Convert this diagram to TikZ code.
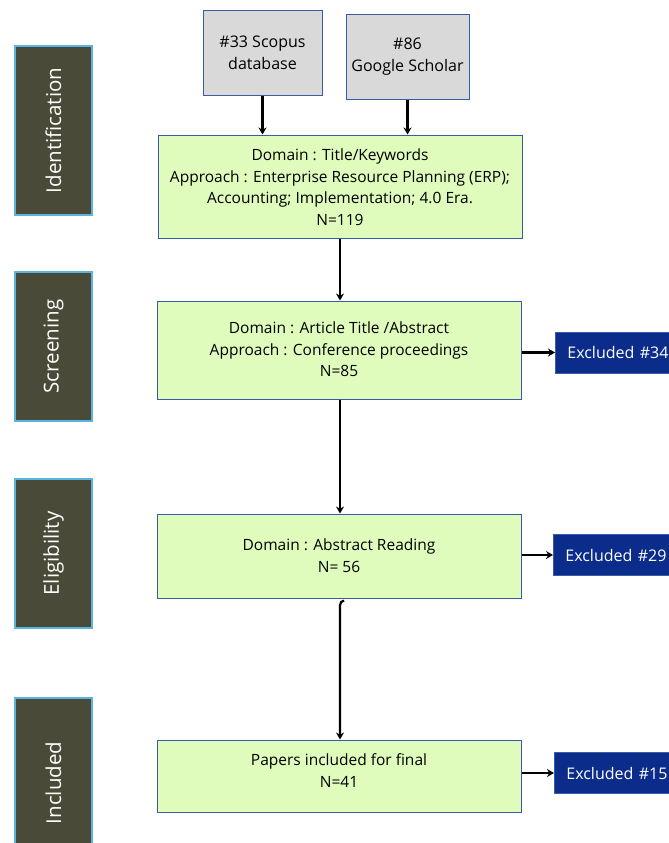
\documentclass[tikz,border=0pt]{standalone}
\usepackage{fontspec}
\setmainfont{Open Sans}
\usetikzlibrary{arrows.meta}
\definecolor{stagefill}{HTML}{4A4A38}
\definecolor{stageedge}{HTML}{5AB4E0}
\definecolor{greenfill}{HTML}{E0FCBC}
\definecolor{boxedge}{HTML}{3A5CA8}
\definecolor{grayfill}{HTML}{D9D9D9}
\definecolor{navyfill}{HTML}{0B2C8A}
\tikzset{
  stage/.style={draw=stageedge, line width=1.5pt, fill=stagefill, text=white, minimum width=77pt, font=\fontsize{20.5}{24}\selectfont, inner sep=0pt},
  srcbox/.style={draw=boxedge, line width=1pt, fill=grayfill, align=center, inner sep=0pt, font=\fontsize{16}{22}\selectfont},
  flowbox/.style={draw=boxedge, line width=1pt, fill=greenfill, minimum width=364pt, inner sep=0pt},
  flowtext/.style={align=center, inner sep=0pt, font=\fontsize{15.5}{21.5}\selectfont},
  exbox/.style={draw=boxedge, line width=0.8pt, fill=navyfill, text=white, minimum height=41pt, text width=110pt, align=left, inner xsep=12pt, inner ysep=0pt, font=\fontsize{16}{19}\selectfont},
  arr/.style={-{Stealth[length=7pt,width=8pt]}, line width=2.2pt, black}
}
\begin{document}
\begin{tikzpicture}[x=1pt,y=-1pt]
\useasboundingbox (0,0) rectangle (669,843);
\clip (0,0) rectangle (669,843);
% stage labels
\node[stage, minimum height=169pt] (sid) at (53.5,130.5) {\rotatebox{90}{Identification}};
\node[stage, minimum height=149pt] (sscr) at (53.5,346.5) {\rotatebox{90}{Screening}};
\node[stage, minimum height=149pt] (selig) at (53.5,553.5) {\rotatebox{90}{Eligibility}};
\node[stage, minimum height=170pt] (sinc) at (53.5,783) {\rotatebox{90}{Included}};
% source boxes
\node[srcbox, minimum width=119pt, minimum height=84pt] (scopus) at (262.5,53) {\#33 Scopus\\database};
\node[srcbox, minimum width=123pt, minimum height=84pt] (scholar) at (407.5,57) {\#86\\Google Scholar};
% flow boxes
\node[flowbox, minimum height=103pt] (b1) at (340,186.5) {};
\node[flowtext] (b1t) at (340,187) {Domain : Title/Keywords\\Approach : Enterprise Resource Planning (ERP);\\Accounting; Implementation; 4.0 Era.\\N=119};
\node[flowbox, minimum height=98pt] (b2) at (339,350) {};
\node[flowtext] (b2t) at (339,349.5) {Domain : Article Title /Abstract\\Approach : Conference proceedings\\N=85};
\node[flowbox, minimum height=84pt] (b3) at (339,556) {};
\node[flowtext] (b3t) at (339,555.5) {Domain : Abstract Reading\\N= 56};
\node[flowbox, minimum height=72pt] (b4) at (339,776) {};
\node[flowtext] (b4t) at (339,770.5) {Papers included for final\\N=41};
% excluded boxes
\node[exbox, anchor=west] (e34) at (555,352.5) {Excluded \#34};
\node[exbox, anchor=west] (e29) at (553,555) {Excluded \#29};
\node[exbox, anchor=west] (e15) at (554,773) {Excluded \#15};
% arrows
\draw[arr] (scopus.south) -- (scopus.south |- b1.north);
\draw[arr] (scholar.south) -- (scholar.south |- b1.north);
\draw[arr] (b1.south) -- (b1.south |- b2.north);
\draw[arr] (b1.south |- b2.south) -- (b1.south |- b3.north);
\draw[arr] ([xshift=4pt,yshift=-2pt]b1.south |- b3.south) to[out=180,in=90] ([yshift=-7pt]b1.south |- b3.south) -- (b1.south |- b4.north);
\draw[arr] (b2.east |- e34.west) -- (e34.west);
\draw[arr] (b3.east |- e29.west) -- (e29.west);
\draw[arr] (b4.east |- e15.west) -- (e15.west);
\end{tikzpicture}
\end{document}
